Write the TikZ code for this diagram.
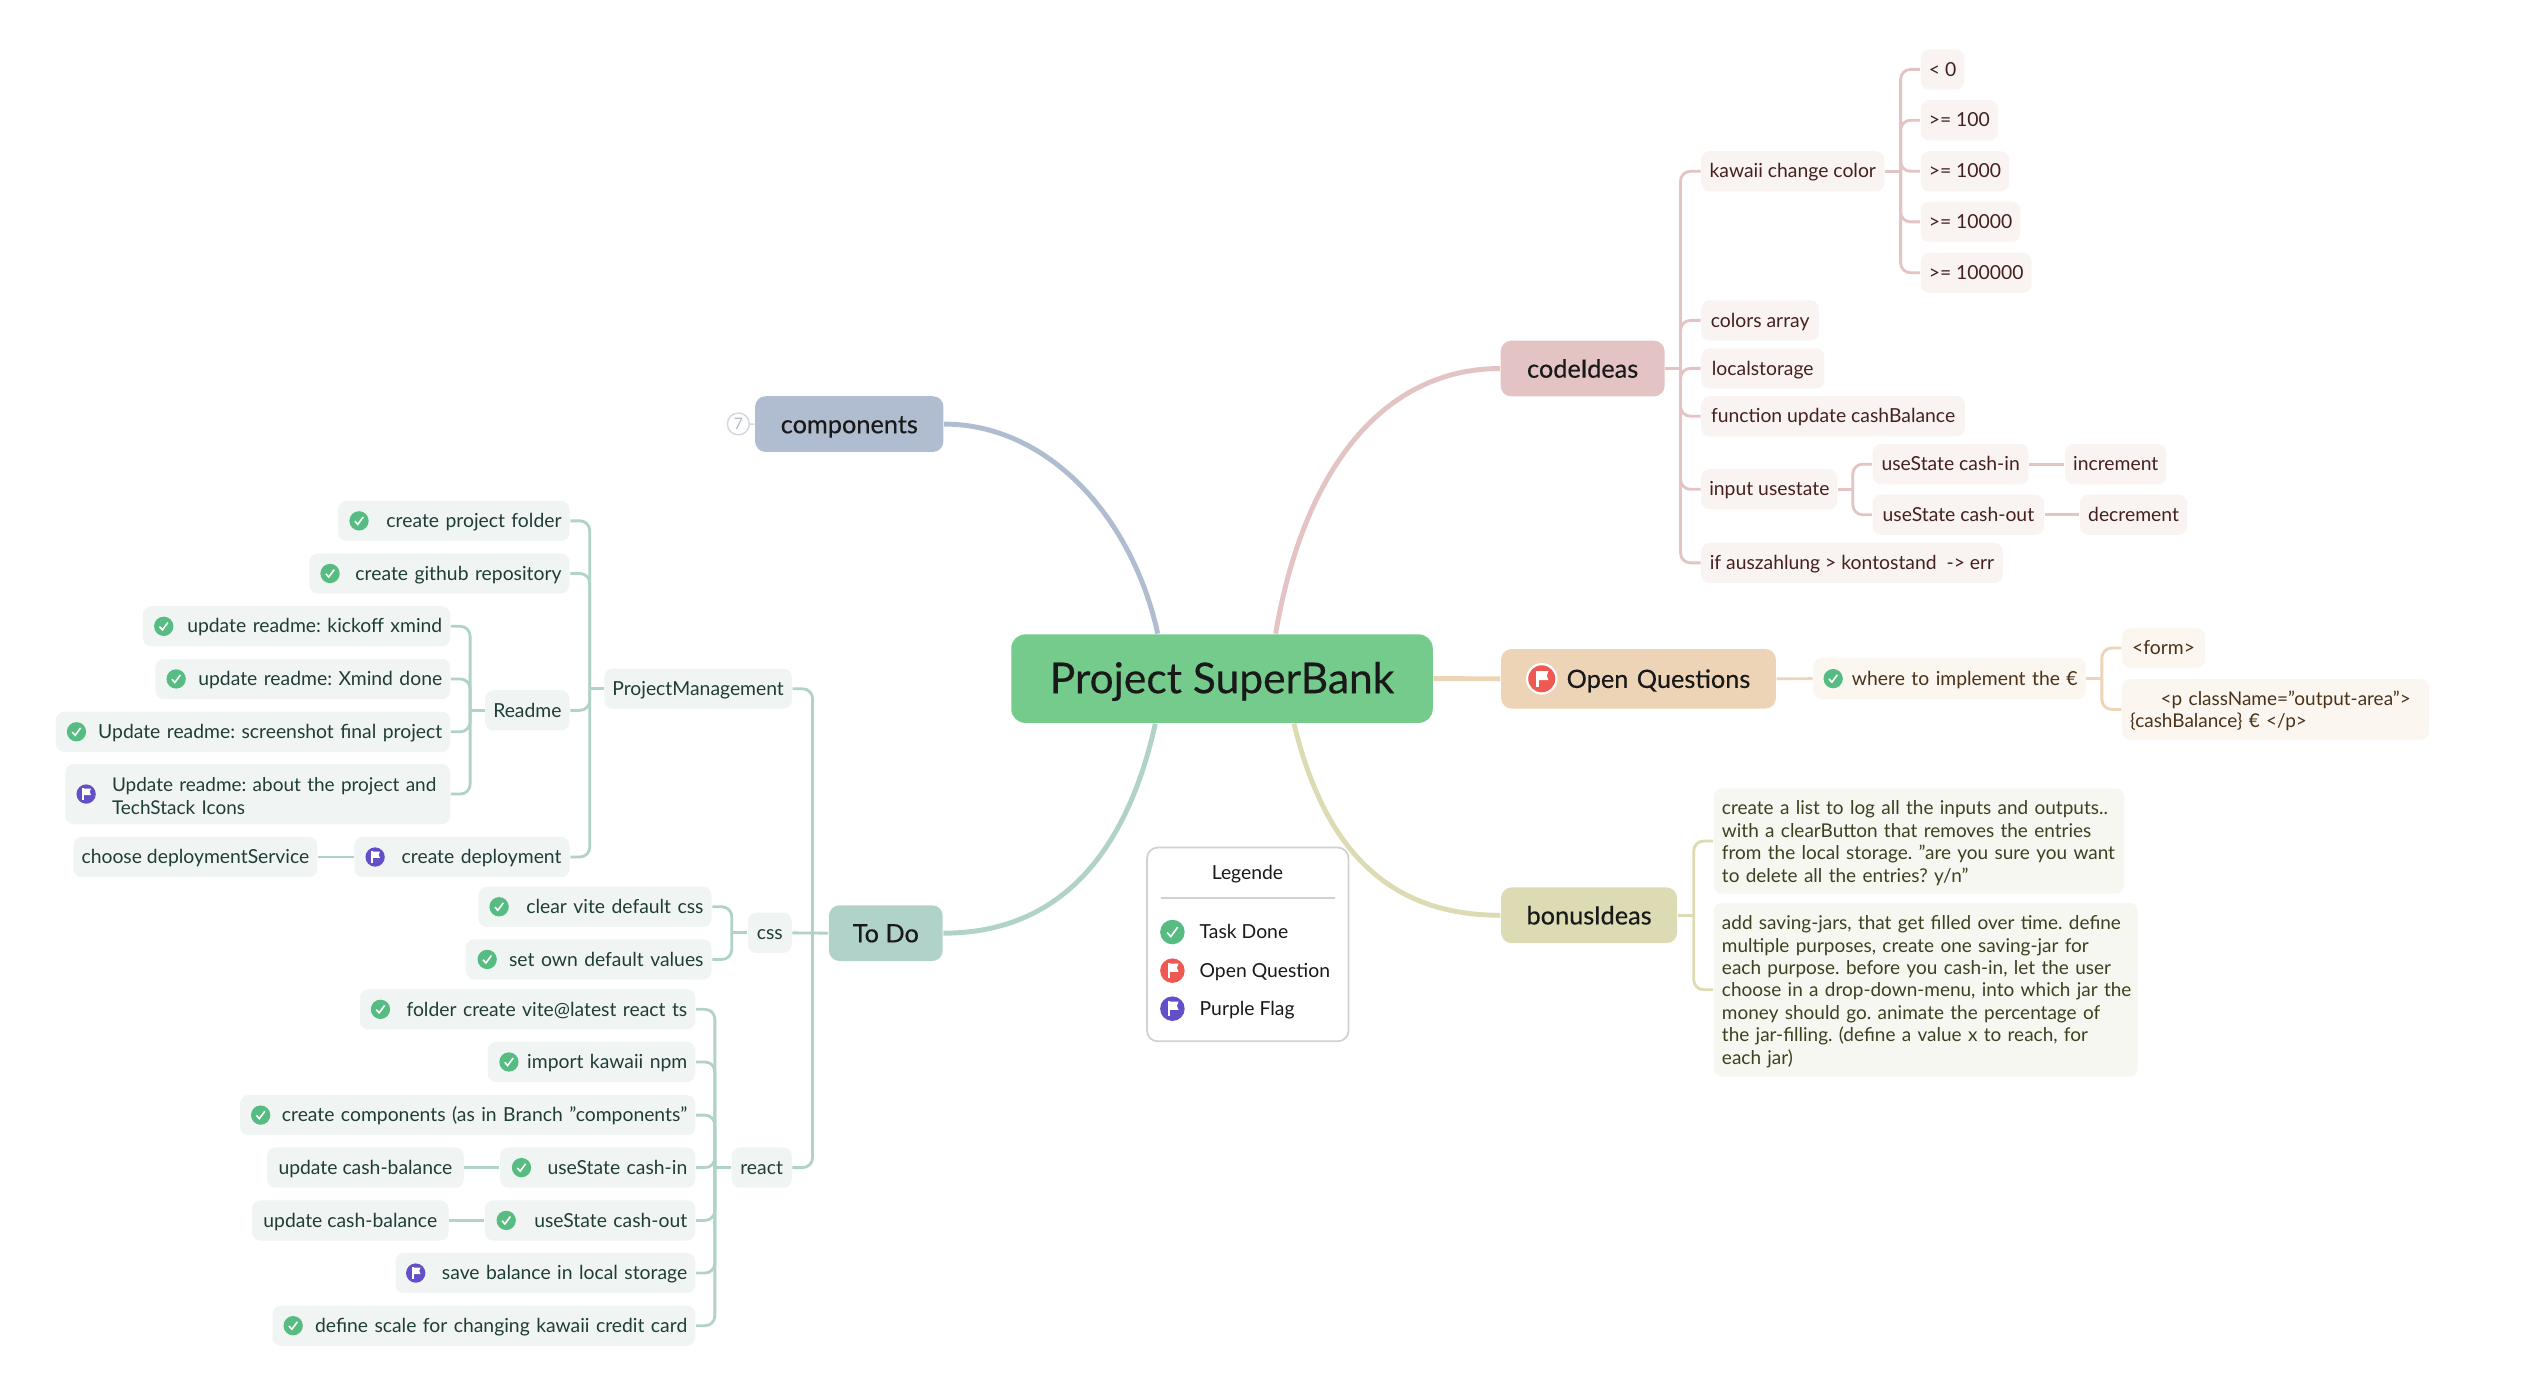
\documentclass[tikz,border=0pt]{standalone}
\usepackage{fontspec}
\setmainfont{Lato}
\newfontfamily\headfont{Lato}[FakeBold=0.35]
\usetikzlibrary{positioning}
\definecolor{rootfill}{HTML}{75CB8B}
\definecolor{compfill}{HTML}{B0BCCF}
\definecolor{todofill}{HTML}{B1D2C9}
\definecolor{todoleaf}{HTML}{F0F5F4}
\definecolor{todotext}{HTML}{1F3D36}
\definecolor{codefill}{HTML}{E3C3C3}
\definecolor{codeleaf}{HTML}{F9F4F2}
\definecolor{codetext}{HTML}{45201F}
\definecolor{openfill}{HTML}{EED4B6}
\definecolor{openleaf}{HTML}{FBF6F0}
\definecolor{opentext}{HTML}{4B3218}
\definecolor{bonusfill}{HTML}{DCDBB3}
\definecolor{bonusleaf}{HTML}{F6F7F0}
\definecolor{bonustext}{HTML}{3E4020}
\definecolor{donegreen}{HTML}{56BC82}
\definecolor{flagred}{HTML}{EE5A52}
\definecolor{flagpurple}{HTML}{6350C8}
\tikzset{
px/.style={x=0.0161cm,y=-0.0161cm},
span/.style={minimum width=#1*0.0161cm},
wide/.style={text width=(#1-10)*0.0161cm},
lines/.style={text height=,text depth=,font=\fontsize{5.4}{6.37}\selectfont,execute at begin node=\rule{0pt}{5.1pt}},
leaf/.style={rounded corners=2.4pt,inner xsep=5*0.0161cm,inner ysep=0pt,minimum height=25*0.0161cm,text height=4.6pt,text depth=0.8pt,font=\fontsize{5.5}{6.37}\selectfont},
leafT/.style={leaf,fill=todoleaf,text=todotext},
leafC/.style={leaf,fill=codeleaf,text=codetext},
leafO/.style={leaf,fill=openleaf,text=opentext},
leafB/.style={leaf,fill=bonusleaf,text=bonustext},
branch/.style={rounded corners=3pt,inner sep=0pt,minimum height=34.6*0.0161cm,text height=6pt,text depth=0.8pt,text=black!90,font=\headfont\fontsize{7.2}{9}\selectfont},
linkT/.style={draw=todofill,line width=0.8pt,rounded corners=2.8pt},
linkC/.style={draw=codefill,line width=0.8pt,rounded corners=2.8pt},
linkO/.style={draw=openfill,line width=0.8pt,rounded corners=2.8pt},
linkB/.style={draw=bonusfill,line width=0.8pt,rounded corners=2.8pt},
legendtext/.style={font=\fontsize{5.5}{7}\selectfont,inner sep=0pt,text height=4.6pt,text depth=0.8pt,text=black!90},
done/.pic={
\fill[donegreen] (0,0) circle (6);
\draw[white,line width=0.45pt] (-2.6,0.2)--(-0.8,2.2)--(2.6,-2.4);
},
redflag/.pic={
\fill[white] (0,0) circle (7);
\fill[flagred] (0,0) circle (6);
\fill[white] (-2.4,-3.6) rectangle (-1.2,3.6);
\fill[white] (-1.2,-3.4)--(3,-3.4)--(2.2,-1.4)--(3,0.6)--(-1.2,0.6)--cycle;
},
purpleflag/.pic={
\fill[flagpurple] (0,0) circle (6);
\fill[white] (-2.4,-3.6) rectangle (-1.2,3.6);
\fill[white] (-1.2,-3.4)--(3,-3.4)--(2.2,-1.4)--(3,0.6)--(-1.2,0.6)--cycle;
}
}
\begin{document}
\frenchspacing
\begin{tikzpicture}[px]
\useasboundingbox (0,0) rectangle (1567.7,864.6);
%centre and main branches
\node[rounded corners=4pt,inner sep=0pt,fill=rootfill,span=261.8,minimum height=55*0.0161cm,text=black!90,text height=10.2pt,text depth=1.9pt,font=\headfont\fontsize{12.1}{15}\selectfont] (root) at (759,421.5) {Project SuperBank};
\node[branch,fill=compfill,span=117] (comps) at (527.5,263.4) {components};
\node[branch,fill=todofill,span=70.7] (todo) at (550.2,579.6) {To Do};
\node[branch,fill=codefill,span=101.8] (code) at (983,228.9) {codeIdeas};
\node[branch,fill=openfill,span=170.7,minimum height=37*0.0161cm,text width=(170.7-10)*0.0161cm,inner xsep=5*0.0161cm,align=right] (open) at (1017.7,421.6) {Open Questions\hspace*{5pt}};
\node[branch,fill=bonusfill,span=109.3] (bonus) at (987,568.5) {bonusIdeas};
\node[circle,draw=compfill!60,fill=white,line width=0.4pt,minimum size=13.6*0.0161cm,inner sep=0pt,text=compfill,font=\fontsize{4.5}{5}\selectfont] (count) at (458.6,263.3) {7};
\draw[compfill!60,line width=0.4pt] (count) -- (comps.west);
\draw[compfill,line width=1.4pt] (comps.east) .. controls (650,263.4) and (703,320) .. (root.145.5);
\draw[codefill,line width=1.4pt] (code.west) .. controls (860,228.9) and (810,290) .. (root.40.7);
\draw[todofill,line width=1.4pt] (todo.east) .. controls (665,579.6) and (702,520) .. (root.214.5);
\draw[bonusfill,line width=1.4pt] (bonus.west) .. controls (860,568.5) and (822,525) .. (root.-32);
\draw[openfill,line width=1.4pt] (root.east) -- (open.west);
%codeIdeas
\node[leafC,span=113.8,anchor=west] (kawaii) at (1056.2,106.4) {kawaii change color};
\node[leafC,span=73.2,anchor=west] (colors) at (1056.2,199) {colors array};
\node[leafC,span=76.5,anchor=west] (local) at (1056.2,228.8) {localstorage};
\node[leafC,span=163.8,anchor=west] (func) at (1056.2,258.5) {function update cashBalance};
\node[leafC,span=83.8,anchor=west] (input) at (1056.2,303.9) {input usestate};
\node[leafC,span=187.3,anchor=west] (ifless) at (1056.2,349.6) {if auszahlung > kontostand~ -> err};
\node[leafC,span=26.4,anchor=west] (lim0) at (1192.6,43.1) {< 0};
\node[leafC,span=44.2,anchor=west] (lim1) at (1192.6,74.7) {>= 100};
\node[leafC,span=51.1,anchor=west] (lim2) at (1192.6,106.4) {>= 1000};
\node[leafC,span=57.8,anchor=west] (lim3) at (1192.6,137.8) {>= 10000};
\node[leafC,span=64.2,anchor=west] (lim4) at (1192.6,169.4) {>= 100000};
\node[leafC,span=96.9,anchor=west] (codein) at (1162.7,288.3) {useState cash-in};
\node[leafC,span=106.5,anchor=west] (codeout) at (1162.7,319.7) {useState cash-out};
\node[leafC,span=62.3,anchor=west] (incr) at (1282.2,288.3) {increment};
\node[leafC,span=66.5,anchor=west] (decr) at (1291.5,319.7) {decrement};
\coordinate (codefork) at (1043.8,228.9);
\coordinate (kawaiifork) at (1180.5,106.4);
\coordinate (inputfork) at (1150.8,303.9);
\draw[linkC] (code.east) -- (codefork);
\foreach \n in {kawaii,colors,local,func,input,ifless}
{
\draw[linkC] (codefork) |- (\n.west);
}
\draw[linkC] (kawaii.east) -- (kawaiifork);
\foreach \n in {lim0,lim1,lim2,lim3,lim4}
{
\draw[linkC] (kawaiifork) |- (\n.west);
}
\draw[linkC] (input.east) -- (inputfork);
\draw[linkC] (inputfork) |- (codein.west);
\draw[linkC] (inputfork) |- (codeout.west);
\draw[linkC] (codein.east) -- (incr.west);
\draw[linkC] (codeout.east) -- (decr.west);
%open questions
\node[leafO,wide=169.1,align=right,minimum height=25.8*0.0161cm,anchor=west] (where) at (1125.9,421.5) {where to implement the €};
\node[leafO,span=51.6,minimum height=24.4*0.0161cm,anchor=west] (form) at (1317.6,402.5) {<form>};
\node[leafO,lines,wide=190.7,minimum height=37.7*0.0161cm,align=left,anchor=west] (para) at (1317.6,440.6) {\hspace*{8.7pt}<p className="output-area">\\\{cashBalance\} € </p>};
\coordinate (wherefork) at (1305.5,421.5);
\draw[linkO] (open.east) -- (where.west);
\draw[linkO] (where.east) -- (wherefork);
\draw[linkO] (wherefork) |- (form.west);
\draw[linkO] (wherefork) |- (para.west);
\pic[scale=1.4] at (957.6,421.6) {redflag};
\pic at (1138.6,421.5) {done};
%bonusIdeas
\node[leafB,lines,wide=254.8,minimum height=65.4*0.0161cm,align=left,anchor=west] (loglist) at (1064.1,522.4) {create a list to log all the inputs and outputs..\\with a clearButton that removes the entries\\from the local storage. "are you sure you want\\to delete all the entries? y/n"};
\node[leafB,lines,wide=263.3,minimum height=108*0.0161cm,align=left,anchor=west] (jars) at (1064.1,614.7) {add saving-jars, that get filled over time. define\\multiple purposes, create one saving-jar for\\each purpose. before you cash-in, let the user\\\mbox{choose in a drop-down-menu, into which jar the}\\money should go. animate the percentage of\\the jar-filling. (define a value x to reach, for\\each jar)};
\coordinate (bonusfork) at (1052,568.5);
\draw[linkB] (bonus.east) -- (bonusfork);
\draw[linkB] (bonusfork) |- (loglist.west);
\draw[linkB] (bonusfork) |- (jars.west);
%legend
\node[draw=black!18,line width=0.5pt,fill=white,rounded corners=3pt,minimum width=125.1*0.0161cm,minimum height=120.3*0.0161cm,inner sep=0pt] (legend) at (775,586.6) {};
\node[legendtext] (legendtitle) at (774.8,542) {Legende};
\draw[black!18,line width=0.4pt] (720.9,557.8) -- (829.3,557.8);
\node[legendtext,anchor=west] (legdone) at (744.7,578.9) {Task Done};
\node[legendtext,anchor=west] (legopen) at (744.7,602.9) {Open Question};
\node[legendtext,anchor=west] (legflag) at (744.7,626.5) {Purple Flag};
\pic[scale=1.27] at (728.2,578.9) {done};
\pic[scale=1.27] at (728.2,602.9) {redflag};
\pic[scale=1.27] at (728.2,626.5) {purpleflag};
%project management
\node[leafT,wide=143.8,align=right,anchor=east] (folder) at (354.2,323.5) {create project folder};
\node[leafT,wide=161.6,align=right,anchor=east] (github) at (354.2,356.2) {create github repository};
\node[leafT,wide=190.9,align=right,anchor=east] (kickoff) at (280.1,389) {update readme: kickoff xmind};
\node[leafT,wide=183.1,align=right,anchor=east] (xminddone) at (280.1,421.7) {update readme: Xmind done};
\node[leafT,wide=245.1,align=right,anchor=east] (shot) at (280.1,454.5) {Update readme: screenshot final project};
\node[leafT,lines,wide=239.1,minimum height=37.5*0.0161cm,align=left,anchor=east] (about) at (280.1,493.2) {\hspace*{11pt}Update readme: about the project and\\\hspace*{11pt}TechStack Icons};
\node[leafT,span=51.8,anchor=east] (readme) at (354.2,441.2) {Readme};
\node[leafT,span=151.6,anchor=east] (service) at (197.6,532.3) {choose deploymentService};
\node[leafT,wide=133.7,align=right,anchor=east] (deploy) at (354.2,532.3) {create deployment};
\node[leafT,span=115.3,anchor=east] (pm) at (492.3,427.8) {ProjectManagement};
\coordinate (pmfork) at (366.3,427.8);
\coordinate (readmefork) at (292,441.2);
\draw[linkT] (pm.west) -- (pmfork);
\foreach \n in {folder,github,readme,deploy}
{
\draw[linkT] (pmfork) |- (\n.east);
}
\draw[linkT] (readme.west) -- (readmefork);
\foreach \n in {kickoff,xminddone,shot,about}
{
\draw[linkT] (readmefork) |- (\n.east);
}
\draw[linkT] (deploy.west) -- (service.east);
\foreach \x/\y in {223/323.5,205/356.2,101.7/389,109.4/421.7,47.5/454.5}
{
\pic at (\x,\y) {done};
}
\pic at (53.5,493.2) {purpleflag};
\pic at (233,532.3) {purpleflag};
%css
\node[leafT,span=27.2,anchor=east] (css) at (492.2,579.4) {css};
\node[leafT,wide=144.8,align=right,anchor=east] (clearcss) at (442.4,563.2) {clear vite default css};
\node[leafT,wide=152.5,align=right,anchor=east] (owncss) at (442.4,595.9) {set own default values};
\coordinate (cssfork) at (454.5,579.4);
\draw[linkT] (css.west) -- (cssfork);
\draw[linkT] (cssfork) |- (clearcss.east);
\draw[linkT] (cssfork) |- (owncss.east);
\pic at (310,563.2) {done};
\pic at (302.6,595.9) {done};
%react
\node[leafT,span=37.4,anchor=east] (react) at (492.2,725.2) {react};
\node[leafT,wide=208.4,align=right,anchor=east] (vite) at (432.3,626.9) {folder create vite@latest react ts};
\node[leafT,wide=129,align=right,anchor=east] (npm) at (432.3,659.6) {import kawaii npm};
\node[leafT,wide=282.8,align=right,anchor=east] (branchcomps) at (432.3,692.6) {create components (as in Branch "components"};
\node[leafT,wide=121.3,align=right,anchor=east] (reactin) at (432.3,725.2) {useState cash-in};
\node[leafT,wide=130.7,align=right,anchor=east] (reactout) at (432.3,758) {useState cash-out};
\node[leafT,wide=186.2,align=right,anchor=east] (save) at (432.3,790.7) {save balance in local storage};
\node[leafT,wide=262.6,align=right,anchor=east] (scale) at (432.3,823.4) {define scale for changing kawaii credit card};
\node[leafT,span=122.2,anchor=east] (balin) at (288.5,725.2) {update cash-balance};
\node[leafT,span=122.2,anchor=east] (balout) at (279.1,758) {update cash-balance};
\coordinate (reactfork) at (444,725.2);
\draw[linkT] (react.west) -- (reactfork);
\foreach \n in {vite,npm,branchcomps,reactin,reactout,save,scale}
{
\draw[linkT] (reactfork) |- (\n.east);
}
\draw[linkT] (reactin.west) -- (balin.east);
\draw[linkT] (reactout.west) -- (balout.east);
\foreach \x/\y in {236.3/626.9,316.1/659.6,161.9/692.6,323.9/725.2,314.4/758,182.1/823.4}
{
\pic at (\x,\y) {done};
}
\pic at (258.2,790.7) {purpleflag};
%to do fork
\coordinate (todofork) at (504.7,579.6);
\draw[linkT] (todo.west) -- (css.east);
\draw[linkT] (todofork) |- (pm.east);
\draw[linkT] (todofork) |- (react.east);
\end{tikzpicture}
\end{document}
